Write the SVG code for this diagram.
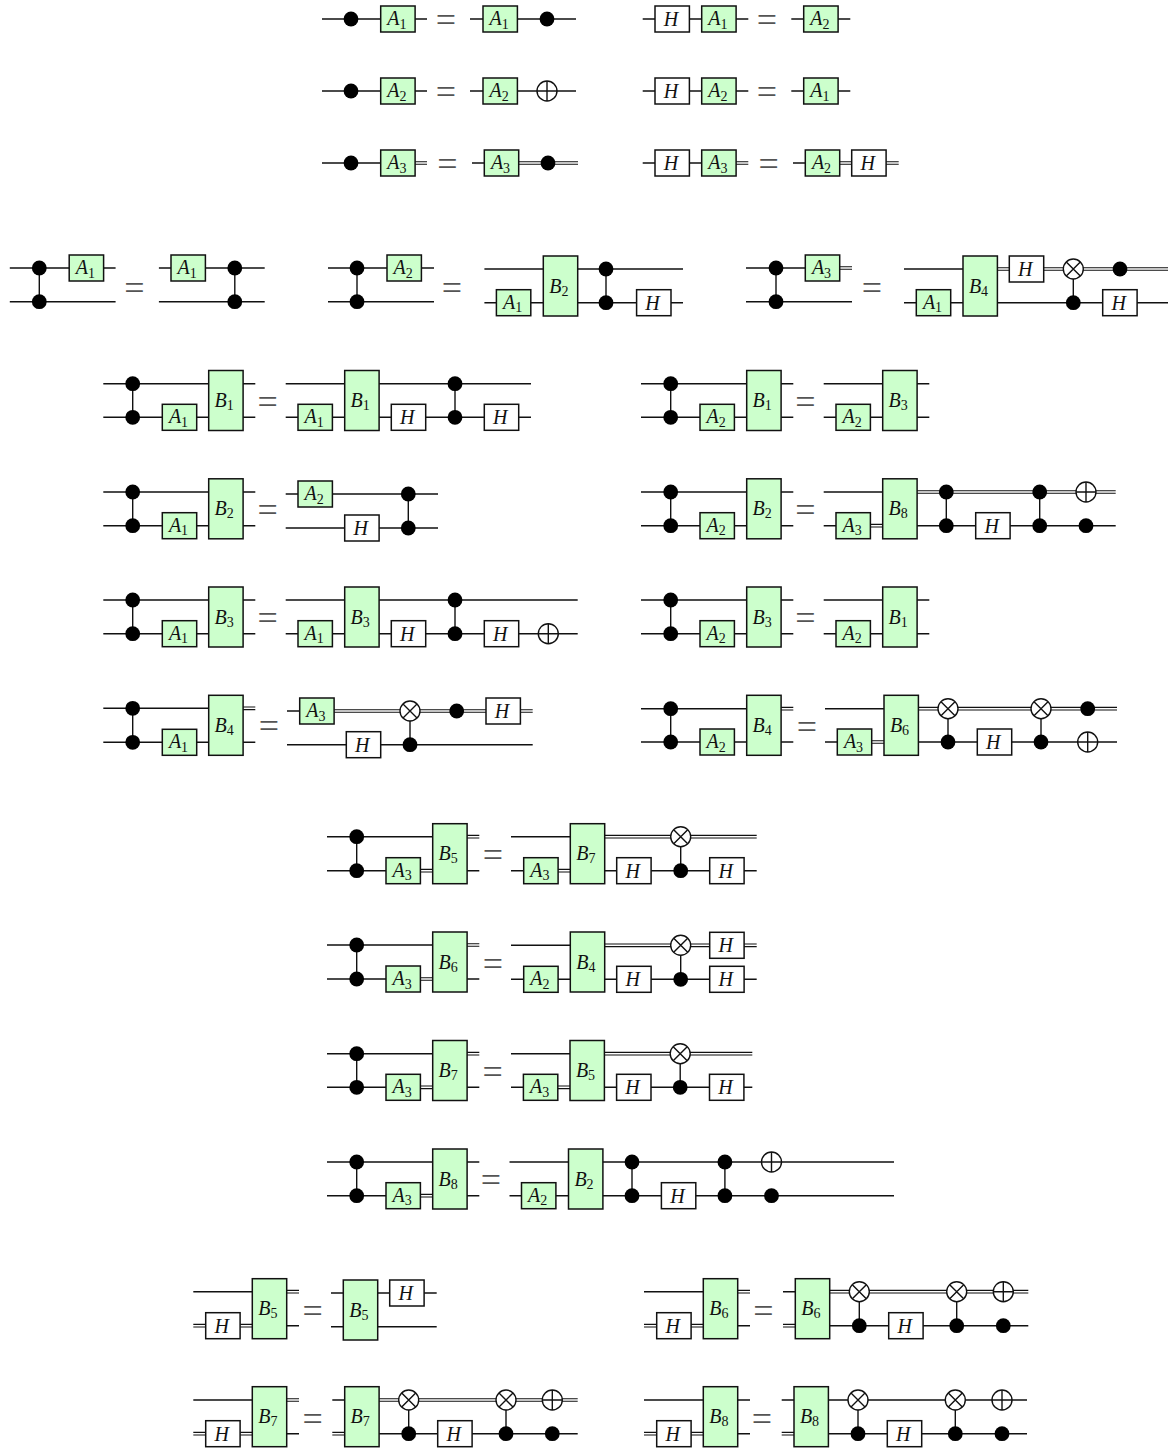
<svg xmlns="http://www.w3.org/2000/svg" width="1168" height="1448" viewBox="0 0 1168 1448">
<style>
.w{fill:none;stroke:#111;stroke-width:1.4}
.d{fill:none;stroke:#111;stroke-width:1.1}
.g{fill:#ccffcc;stroke:#111;stroke-width:1.5}
.h{fill:#fff;stroke:#111;stroke-width:1.5}
text{font-family:"Liberation Serif",serif;fill:#111}
.l{font-style:italic;font-size:20px;text-anchor:middle}
.s{font-style:normal;font-size:14px}
.e{font-size:36px;text-anchor:middle;fill:#555}
.o{fill:#fff;stroke:#111;stroke-width:1.4}
</style>
<defs>
<rect id="sg" class="g" x="0" y="-13" width="34.4" height="26"/>
<rect id="sh" class="h" x="0" y="-13" width="34.4" height="26"/>
<rect id="tg" class="g" x="0" y="-30" width="34.4" height="60"/>
<circle id="dot" r="7.4" fill="#000"/>
<g id="plus"><circle class="o" r="10"/><path class="w" d="M-10 0H10M0 -10V10"/></g>
<g id="cross"><circle class="o" r="10"/><path class="w" d="M-7 -7L7 7M-7 7L7 -7"/></g>
</defs>
<g id="connectors">
<path class="w" d="M322 19H427M470 19H576M322 91H427M470 91H576M322 163H381M472 163H484"/>
<path class="d" d="M415 161.7H427M415 164.3H427M518 161.7H578M518 164.3H578"/>
<path class="w" d="M642.7 19H748.3M791.3 19H850.3M642.7 91H748.3M791.3 91H850.3M642.7 163H702M793 163H805"/>
<path class="d" d="M736 161.7H748.3M736 164.3H748.3M839.7 161.7H851.7M839.7 164.3H851.7M886 161.7H898.7M886 164.3H898.7"/>
<path class="w" d="M9.8 268H115.6M9.8 301.7H115.6M39.3 268V301.7M158.9 268H264.7M158.9 301.7H264.7M234.8 268V301.7"/>
<path class="w" d="M328 268H434M328 301.7H434M357 268V301.7M484.4 269H683M484.4 302.7H683M606 269V302.7"/>
<path class="w" d="M746 268H805M746 301.7H852M776 268V301.7M904 269H963M904 302.7H1168M1073.3 269V302.7"/>
<path class="d" d="M840 266.7H852M840 269.3H852M997 267.7H1168M997 270.3H1168"/>
<path class="w" d="M103.3 383.7H255.3M103.3 417.3H255.3M132.7 383.7V417.3M285.7 383.7H531M285.7 417.3H531M455 383.7V417.3"/>
<path class="w" d="M103.3 492H255.3M103.3 525.7H255.3M132.7 492V525.7M285.7 494H438M285.7 528H438M408.3 494V528"/>
<path class="w" d="M103.3 600H255.3M103.3 633.7H255.3M132.7 600V633.7M285.7 600H577.7M285.7 633.7H577.7M455 600V633.7"/>
<path class="w" d="M103.3 708.3H209M103.3 742.3H255.3M132.7 708.3V742.3M287 711H300M287 744.7H532.7M410 711V744.7"/>
<path class="d" d="M243 707H255.3M243 709.6H255.3M334 709.7H532.7M334 712.3H532.7"/>
<path class="w" d="M641 383.7H793.3M641 417.3H793.3M670.7 383.7V417.3M823.7 383.7H929.3M823.7 417.3H929.3"/>
<path class="w" d="M641 492H793.3M641 525.7H793.3M670.7 492V525.7M823.7 492H883M823.7 525.7H836M917 525.7H1115.7M946.3 492V525.7M1039.7 492V525.7"/>
<path class="d" d="M870.3 524.4H883M870.3 527H883M917 490.7H1115.7M917 493.3H1115.7"/>
<path class="w" d="M641 600H793.3M641 633.7H793.3M670.7 600V633.7M823.7 600H929.3M823.7 633.7H929.3"/>
<path class="w" d="M641 708.7H747M641 742H793.3M670.7 708.7V742M825 708.7H884M825 742H837.3M918.3 742H1117M948 708.7V742M1041 708.7V742"/>
<path class="d" d="M781 707.4H793.3M781 710H793.3M871.7 740.7H884M871.7 743.3H884M918.3 707.4H1117M918.3 710H1117"/>
<path class="w" d="M327 836.7H433M327 870.7H386M467 870.7H479.3M356.7 836.7V870.7M511 836.7H570.3M511 870.7H523.7M604.7 870.7H756.7M680.7 836.7V870.7"/>
<path class="d" d="M420.3 869.4H432.7M420.3 872H432.7M467 835.4H479.3M467 838H479.3M558 869.4H570.3M558 872H570.3M604.7 835.4H756.7M604.7 838H756.7"/>
<path class="w" d="M327 945H433M327 979H386M467 979H479.3M356.7 945V979M511 945.3H570.3M511 979.3H756.7M680.7 945.3V979.3"/>
<path class="d" d="M420.3 977.7H432.7M420.3 980.3H432.7M467 943.7H479.3M467 946.3H479.3M604.7 944H756.7M604.7 946.6H756.7"/>
<path class="w" d="M327 1053.7H433M327 1087.3H386M467 1087.3H479.3M356.7 1053.7V1087.3M511 1053.7H570M511 1087.3H523.4M604.4 1087.3H752.3M680.2 1053.7V1087.3"/>
<path class="d" d="M420.3 1086H432.7M420.3 1088.6H432.7M467 1052.4H479.3M467 1055H479.3M557.8 1086H570M557.8 1088.6H570M604.4 1052.4H752.3M604.4 1055H752.3"/>
<path class="w" d="M327 1162H479.3M327 1195.7H386M467 1195.7H479.3M356.7 1162V1195.7M509.5 1162H894M509.5 1195.7H894M632 1162V1195.7M724.9 1162V1195.7"/>
<path class="d" d="M420.3 1194.4H432.7M420.3 1197H432.7"/>
<path class="w" d="M193.3 1291.7H252.3M286.7 1325.7H299M331 1293H436.7M331 1326.7H436.7"/>
<path class="d" d="M286.7 1290.4H299M286.7 1293H299M193.3 1324.4H205.7M193.3 1327H205.7M240.3 1324.4H252.3M240.3 1327H252.3"/>
<path class="w" d="M193.3 1400H252.3M286.7 1433.7H299M332.3 1400H345M379 1433.7H577.7M408.7 1400V1433.7M506 1400V1433.7"/>
<path class="d" d="M286.7 1398.7H299M286.7 1401.3H299M193.3 1432.4H205.7M193.3 1435H205.7M240.3 1432.4H252.3M240.3 1435H252.3M332.3 1432.4H345M332.3 1435H345M379 1398.7H577.7M379 1401.3H577.7"/>
<path class="w" d="M644 1291.7H703.3M737.7 1325.7H750M783 1291.7H795.3M829.7 1325.7H1028.3M859.3 1291.7V1325.7M956.7 1291.7V1325.7"/>
<path class="d" d="M737.7 1290.4H750M737.7 1293H750M644 1324.4H656.7M644 1327H656.7M691 1324.4H703.3M691 1327H703.3M783 1324.4H795.3M783 1327H795.3M829.7 1290.4H1028.3M829.7 1293H1028.3"/>
<path class="w" d="M644 1400H750M737.7 1433.7H750M781.7 1400H1027M828.3 1433.7H1027M858 1400V1433.7M955.3 1400V1433.7"/>
<path class="d" d="M644 1432.4H656.7M644 1435H656.7M691 1432.4H703.3M691 1435H703.3M781.7 1432.4H794M781.7 1435H794"/>
</g>
<g id="equals">
<text class="e" x="446" y="32">=</text><text class="e" x="446" y="104">=</text><text class="e" x="447.3" y="176">=</text>
<text class="e" x="767" y="32">=</text><text class="e" x="767" y="104">=</text><text class="e" x="768.7" y="176">=</text>
<text class="e" x="134.4" y="300">=</text><text class="e" x="452" y="300">=</text><text class="e" x="872" y="300">=</text>
<text class="e" x="267.7" y="414">=</text><text class="e" x="267.7" y="522">=</text><text class="e" x="267.7" y="630">=</text><text class="e" x="269" y="738">=</text>
<text class="e" x="805.3" y="414">=</text><text class="e" x="805.3" y="522">=</text><text class="e" x="805.3" y="630">=</text><text class="e" x="807" y="738.7">=</text>
<text class="e" x="493" y="867.3">=</text><text class="e" x="493" y="975.7">=</text><text class="e" x="492.6" y="1083.7">=</text><text class="e" x="491" y="1192">=</text>
<text class="e" x="312.7" y="1323">=</text><text class="e" x="312.7" y="1430.7">=</text><text class="e" x="763.3" y="1323">=</text><text class="e" x="762" y="1430.7">=</text>
</g>
<g id="t1"><g transform="translate(351,19)"><use href="#dot"/></g><g transform="translate(380.7,19)"><use href="#sg"/><text class="l" x="16.2" y="6">A<tspan class="s" dy="3.5">1</tspan></text></g><g transform="translate(483,19)"><use href="#sg"/><text class="l" x="16.2" y="6">A<tspan class="s" dy="3.5">1</tspan></text></g><g transform="translate(547,19)"><use href="#dot"/></g></g>
<g id="t2"><g transform="translate(351,91)"><use href="#dot"/></g><g transform="translate(380.7,91)"><use href="#sg"/><text class="l" x="16.2" y="6">A<tspan class="s" dy="3.5">2</tspan></text></g><g transform="translate(483,91)"><use href="#sg"/><text class="l" x="16.2" y="6">A<tspan class="s" dy="3.5">2</tspan></text></g><g transform="translate(547,91)"><use href="#plus"/></g></g>
<g id="t3"><g transform="translate(351,163)"><use href="#dot"/></g><g transform="translate(380.7,163)"><use href="#sg"/><text class="l" x="16.2" y="6">A<tspan class="s" dy="3.5">3</tspan></text></g><g transform="translate(484.3,163)"><use href="#sg"/><text class="l" x="16.2" y="6">A<tspan class="s" dy="3.5">3</tspan></text></g><g transform="translate(548,163)"><use href="#dot"/></g></g>
<g id="u1"><g transform="translate(655,19)"><use href="#sh"/><text class="l" x="16" y="7">H</text></g><g transform="translate(701.7,19)"><use href="#sg"/><text class="l" x="16.2" y="6">A<tspan class="s" dy="3.5">1</tspan></text></g><g transform="translate(803.7,19)"><use href="#sg"/><text class="l" x="16.2" y="6">A<tspan class="s" dy="3.5">2</tspan></text></g></g>
<g id="u2"><g transform="translate(655,91)"><use href="#sh"/><text class="l" x="16" y="7">H</text></g><g transform="translate(701.7,91)"><use href="#sg"/><text class="l" x="16.2" y="6">A<tspan class="s" dy="3.5">2</tspan></text></g><g transform="translate(803.7,91)"><use href="#sg"/><text class="l" x="16.2" y="6">A<tspan class="s" dy="3.5">1</tspan></text></g></g>
<g id="u3"><g transform="translate(655,163)"><use href="#sh"/><text class="l" x="16" y="7">H</text></g><g transform="translate(701.7,163)"><use href="#sg"/><text class="l" x="16.2" y="6">A<tspan class="s" dy="3.5">3</tspan></text></g><g transform="translate(805.3,163)"><use href="#sg"/><text class="l" x="16.2" y="6">A<tspan class="s" dy="3.5">2</tspan></text></g><g transform="translate(851.7,163)"><use href="#sh"/><text class="l" x="16" y="7">H</text></g></g>
<g id="a1"><use href="#dot" x="39.3" y="268"/><use href="#dot" x="39.3" y="301.7"/><g transform="translate(69.2,268)"><use href="#sg"/><text class="l" x="16.2" y="6">A<tspan class="s" dy="3.5">1</tspan></text></g><g transform="translate(171,268)"><use href="#sg"/><text class="l" x="16.2" y="6">A<tspan class="s" dy="3.5">1</tspan></text></g><use href="#dot" x="234.8" y="268"/><use href="#dot" x="234.8" y="301.7"/></g>
<g id="a2"><use href="#dot" x="357" y="268"/><use href="#dot" x="357" y="301.7"/><g transform="translate(387,268)"><use href="#sg"/><text class="l" x="16.2" y="6">A<tspan class="s" dy="3.5">2</tspan></text></g><g transform="translate(496.4,302.7)"><use href="#sg"/><text class="l" x="16.2" y="6">A<tspan class="s" dy="3.5">1</tspan></text></g><g transform="translate(543.3,286)"><use href="#tg"/><text class="l" x="15.5" y="6.5">B<tspan class="s" dy="3">2</tspan></text></g><use href="#dot" x="606" y="269"/><use href="#dot" x="606" y="302.7"/><g transform="translate(636.6,302.7)"><use href="#sh"/><text class="l" x="16" y="7">H</text></g></g>
<g id="a3"><use href="#dot" x="776" y="268"/><use href="#dot" x="776" y="301.7"/><g transform="translate(805.3,268)"><use href="#sg"/><text class="l" x="16.2" y="6">A<tspan class="s" dy="3.5">3</tspan></text></g><g transform="translate(916.3,302.7)"><use href="#sg"/><text class="l" x="16.2" y="6">A<tspan class="s" dy="3.5">1</tspan></text></g><g transform="translate(963,286)"><use href="#tg"/><text class="l" x="15.5" y="6.5">B<tspan class="s" dy="3">4</tspan></text></g><g transform="translate(1009.3,269)"><use href="#sh"/><text class="l" x="16" y="7">H</text></g><use href="#cross" x="1073.3" y="269"/><use href="#dot" x="1073.3" y="302.7"/><use href="#dot" x="1120" y="269"/><g transform="translate(1102.7,302.7)"><use href="#sh"/><text class="l" x="16" y="7">H</text></g></g>
<g id="m1"><use href="#dot" x="132.7" y="383.7"/><use href="#dot" x="132.7" y="417.3"/><g transform="translate(162.3,417.3)"><use href="#sg"/><text class="l" x="16.2" y="6">A<tspan class="s" dy="3.5">1</tspan></text></g><g transform="translate(208.7,400.5)"><use href="#tg"/><text class="l" x="15.5" y="6.5">B<tspan class="s" dy="3">1</tspan></text></g><g transform="translate(298,417.3)"><use href="#sg"/><text class="l" x="16.2" y="6">A<tspan class="s" dy="3.5">1</tspan></text></g><g transform="translate(344.7,400.5)"><use href="#tg"/><text class="l" x="15.5" y="6.5">B<tspan class="s" dy="3">1</tspan></text></g><g transform="translate(391.3,417.3)"><use href="#sh"/><text class="l" x="16" y="7">H</text></g><use href="#dot" x="455" y="383.7"/><use href="#dot" x="455" y="417.3"/><g transform="translate(484.3,417.3)"><use href="#sh"/><text class="l" x="16" y="7">H</text></g></g>
<g id="m2"><use href="#dot" x="132.7" y="492"/><use href="#dot" x="132.7" y="525.7"/><g transform="translate(162.3,525.7)"><use href="#sg"/><text class="l" x="16.2" y="6">A<tspan class="s" dy="3.5">1</tspan></text></g><g transform="translate(208.7,508.8)"><use href="#tg"/><text class="l" x="15.5" y="6.5">B<tspan class="s" dy="3">2</tspan></text></g><g transform="translate(298,494)"><use href="#sg"/><text class="l" x="16.2" y="6">A<tspan class="s" dy="3.5">2</tspan></text></g><g transform="translate(344.7,528)"><use href="#sh"/><text class="l" x="16" y="7">H</text></g><use href="#dot" x="408.3" y="494"/><use href="#dot" x="408.3" y="528"/></g>
<g id="m3"><use href="#dot" x="132.7" y="600"/><use href="#dot" x="132.7" y="633.7"/><g transform="translate(162.3,633.7)"><use href="#sg"/><text class="l" x="16.2" y="6">A<tspan class="s" dy="3.5">1</tspan></text></g><g transform="translate(208.7,617)"><use href="#tg"/><text class="l" x="15.5" y="6.5">B<tspan class="s" dy="3">3</tspan></text></g><g transform="translate(298,633.7)"><use href="#sg"/><text class="l" x="16.2" y="6">A<tspan class="s" dy="3.5">1</tspan></text></g><g transform="translate(344.7,617)"><use href="#tg"/><text class="l" x="15.5" y="6.5">B<tspan class="s" dy="3">3</tspan></text></g><g transform="translate(391.3,633.7)"><use href="#sh"/><text class="l" x="16" y="7">H</text></g><use href="#dot" x="455" y="600"/><use href="#dot" x="455" y="633.7"/><g transform="translate(484.3,633.7)"><use href="#sh"/><text class="l" x="16" y="7">H</text></g><use href="#plus" x="548.3" y="633.7"/></g>
<g id="m4"><use href="#dot" x="132.7" y="708.3"/><use href="#dot" x="132.7" y="742.3"/><g transform="translate(162.3,742.3)"><use href="#sg"/><text class="l" x="16.2" y="6">A<tspan class="s" dy="3.5">1</tspan></text></g><g transform="translate(208.7,725.3)"><use href="#tg"/><text class="l" x="15.5" y="6.5">B<tspan class="s" dy="3">4</tspan></text></g><g transform="translate(299.7,711)"><use href="#sg"/><text class="l" x="16.2" y="6">A<tspan class="s" dy="3.5">3</tspan></text></g><g transform="translate(346.3,744.7)"><use href="#sh"/><text class="l" x="16" y="7">H</text></g><use href="#cross" x="410" y="711"/><use href="#dot" x="410" y="744.7"/><use href="#dot" x="456.7" y="711"/><g transform="translate(486,711)"><use href="#sh"/><text class="l" x="16" y="7">H</text></g></g>
<g id="n1"><use href="#dot" x="670.7" y="383.7"/><use href="#dot" x="670.7" y="417.3"/><g transform="translate(700,417.3)"><use href="#sg"/><text class="l" x="16.2" y="6">A<tspan class="s" dy="3.5">2</tspan></text></g><g transform="translate(746.7,400.5)"><use href="#tg"/><text class="l" x="15.5" y="6.5">B<tspan class="s" dy="3">1</tspan></text></g><g transform="translate(836,417.3)"><use href="#sg"/><text class="l" x="16.2" y="6">A<tspan class="s" dy="3.5">2</tspan></text></g><g transform="translate(882.7,400.5)"><use href="#tg"/><text class="l" x="15.5" y="6.5">B<tspan class="s" dy="3">3</tspan></text></g></g>
<g id="n2"><use href="#dot" x="670.7" y="492"/><use href="#dot" x="670.7" y="525.7"/><g transform="translate(700,525.7)"><use href="#sg"/><text class="l" x="16.2" y="6">A<tspan class="s" dy="3.5">2</tspan></text></g><g transform="translate(746.7,508.8)"><use href="#tg"/><text class="l" x="15.5" y="6.5">B<tspan class="s" dy="3">2</tspan></text></g><g transform="translate(836,525.7)"><use href="#sg"/><text class="l" x="16.2" y="6">A<tspan class="s" dy="3.5">3</tspan></text></g><g transform="translate(882.7,508.8)"><use href="#tg"/><text class="l" x="15.5" y="6.5">B<tspan class="s" dy="3">8</tspan></text></g><use href="#dot" x="946.3" y="492"/><use href="#dot" x="946.3" y="525.7"/><g transform="translate(975.7,525.7)"><use href="#sh"/><text class="l" x="16" y="7">H</text></g><use href="#dot" x="1039.7" y="492"/><use href="#dot" x="1039.7" y="525.7"/><use href="#plus" x="1086" y="492"/><use href="#dot" x="1086" y="525.7"/></g>
<g id="n3"><use href="#dot" x="670.7" y="600"/><use href="#dot" x="670.7" y="633.7"/><g transform="translate(700,633.7)"><use href="#sg"/><text class="l" x="16.2" y="6">A<tspan class="s" dy="3.5">2</tspan></text></g><g transform="translate(746.7,617)"><use href="#tg"/><text class="l" x="15.5" y="6.5">B<tspan class="s" dy="3">3</tspan></text></g><g transform="translate(836,633.7)"><use href="#sg"/><text class="l" x="16.2" y="6">A<tspan class="s" dy="3.5">2</tspan></text></g><g transform="translate(882.7,617)"><use href="#tg"/><text class="l" x="15.5" y="6.5">B<tspan class="s" dy="3">1</tspan></text></g></g>
<g id="n4"><use href="#dot" x="670.7" y="708.7"/><use href="#dot" x="670.7" y="742"/><g transform="translate(700,742)"><use href="#sg"/><text class="l" x="16.2" y="6">A<tspan class="s" dy="3.5">2</tspan></text></g><g transform="translate(746.7,725.3)"><use href="#tg"/><text class="l" x="15.5" y="6.5">B<tspan class="s" dy="3">4</tspan></text></g><g transform="translate(837.3,742)"><use href="#sg"/><text class="l" x="16.2" y="6">A<tspan class="s" dy="3.5">3</tspan></text></g><g transform="translate(884,725.3)"><use href="#tg"/><text class="l" x="15.5" y="6.5">B<tspan class="s" dy="3">6</tspan></text></g><use href="#cross" x="948" y="708.7"/><use href="#dot" x="948" y="742"/><g transform="translate(977.3,742)"><use href="#sh"/><text class="l" x="16" y="7">H</text></g><use href="#cross" x="1041" y="708.7"/><use href="#dot" x="1041" y="742"/><use href="#dot" x="1087.7" y="708.7"/><use href="#plus" x="1087.7" y="742"/></g>
<g id="c1"><use href="#dot" x="356.7" y="836.7"/><use href="#dot" x="356.7" y="870.7"/><g transform="translate(386,870.7)"><use href="#sg"/><text class="l" x="16.2" y="6">A<tspan class="s" dy="3.5">3</tspan></text></g><g transform="translate(432.7,853.7)"><use href="#tg"/><text class="l" x="15.5" y="6.5">B<tspan class="s" dy="3">5</tspan></text></g><g transform="translate(523.7,870.7)"><use href="#sg"/><text class="l" x="16.2" y="6">A<tspan class="s" dy="3.5">3</tspan></text></g><g transform="translate(570.3,853.7)"><use href="#tg"/><text class="l" x="15.5" y="6.5">B<tspan class="s" dy="3">7</tspan></text></g><g transform="translate(616.7,870.7)"><use href="#sh"/><text class="l" x="16" y="7">H</text></g><use href="#cross" x="680.7" y="836.7"/><use href="#dot" x="680.7" y="870.7"/><g transform="translate(709.7,870.7)"><use href="#sh"/><text class="l" x="16" y="7">H</text></g></g>
<g id="c2"><use href="#dot" x="356.7" y="945"/><use href="#dot" x="356.7" y="979"/><g transform="translate(386,979)"><use href="#sg"/><text class="l" x="16.2" y="6">A<tspan class="s" dy="3.5">3</tspan></text></g><g transform="translate(432.7,962)"><use href="#tg"/><text class="l" x="15.5" y="6.5">B<tspan class="s" dy="3">6</tspan></text></g><g transform="translate(523.7,979.3)"><use href="#sg"/><text class="l" x="16.2" y="6">A<tspan class="s" dy="3.5">2</tspan></text></g><g transform="translate(570.3,962)"><use href="#tg"/><text class="l" x="15.5" y="6.5">B<tspan class="s" dy="3">4</tspan></text></g><g transform="translate(616.7,979.3)"><use href="#sh"/><text class="l" x="16" y="7">H</text></g><use href="#cross" x="680.7" y="945.3"/><use href="#dot" x="680.7" y="979.3"/><g transform="translate(709.7,945.3)"><use href="#sh"/><text class="l" x="16" y="7">H</text></g><g transform="translate(709.7,979.3)"><use href="#sh"/><text class="l" x="16" y="7">H</text></g></g>
<g id="c3"><use href="#dot" x="356.7" y="1053.7"/><use href="#dot" x="356.7" y="1087.3"/><g transform="translate(386,1087.3)"><use href="#sg"/><text class="l" x="16.2" y="6">A<tspan class="s" dy="3.5">3</tspan></text></g><g transform="translate(432.7,1070.5)"><use href="#tg"/><text class="l" x="15.5" y="6.5">B<tspan class="s" dy="3">7</tspan></text></g><g transform="translate(523.4,1087.3)"><use href="#sg"/><text class="l" x="16.2" y="6">A<tspan class="s" dy="3.5">3</tspan></text></g><g transform="translate(570,1070.5)"><use href="#tg"/><text class="l" x="15.5" y="6.5">B<tspan class="s" dy="3">5</tspan></text></g><g transform="translate(616.6,1087.3)"><use href="#sh"/><text class="l" x="16" y="7">H</text></g><use href="#cross" x="680.2" y="1053.7"/><use href="#dot" x="680.2" y="1087.3"/><g transform="translate(709.5,1087.3)"><use href="#sh"/><text class="l" x="16" y="7">H</text></g></g>
<g id="c4"><use href="#dot" x="356.7" y="1162"/><use href="#dot" x="356.7" y="1195.7"/><g transform="translate(386,1195.7)"><use href="#sg"/><text class="l" x="16.2" y="6">A<tspan class="s" dy="3.5">3</tspan></text></g><g transform="translate(432.7,1179)"><use href="#tg"/><text class="l" x="15.5" y="6.5">B<tspan class="s" dy="3">8</tspan></text></g><g transform="translate(521.5,1195.7)"><use href="#sg"/><text class="l" x="16.2" y="6">A<tspan class="s" dy="3.5">2</tspan></text></g><g transform="translate(568.5,1179)"><use href="#tg"/><text class="l" x="15.5" y="6.5">B<tspan class="s" dy="3">2</tspan></text></g><use href="#dot" x="632" y="1162"/><use href="#dot" x="632" y="1195.7"/><g transform="translate(661.4,1195.7)"><use href="#sh"/><text class="l" x="16" y="7">H</text></g><use href="#dot" x="724.9" y="1162"/><use href="#dot" x="724.9" y="1195.7"/><use href="#plus" x="771.5" y="1162"/><use href="#dot" x="771.5" y="1195.7"/></g>
<g id="p1"><g transform="translate(205.7,1325.7)"><use href="#sh"/><text class="l" x="16" y="7">H</text></g><g transform="translate(252.3,1308.7)"><use href="#tg"/><text class="l" x="15.5" y="6.5">B<tspan class="s" dy="3">5</tspan></text></g><g transform="translate(343.3,1310)"><use href="#tg"/><text class="l" x="15.5" y="6.5">B<tspan class="s" dy="3">5</tspan></text></g><g transform="translate(389.7,1293)"><use href="#sh"/><text class="l" x="16" y="7">H</text></g></g>
<g id="p2"><g transform="translate(205.7,1433.7)"><use href="#sh"/><text class="l" x="16" y="7">H</text></g><g transform="translate(252.3,1416.7)"><use href="#tg"/><text class="l" x="15.5" y="6.5">B<tspan class="s" dy="3">7</tspan></text></g><g transform="translate(344.7,1416.7)"><use href="#tg"/><text class="l" x="15.5" y="6.5">B<tspan class="s" dy="3">7</tspan></text></g><use href="#cross" x="408.7" y="1400"/><use href="#dot" x="408.7" y="1433.7"/><g transform="translate(437.7,1433.7)"><use href="#sh"/><text class="l" x="16" y="7">H</text></g><use href="#cross" x="506" y="1400"/><use href="#dot" x="506" y="1433.7"/><use href="#plus" x="552.3" y="1400"/><use href="#dot" x="552.3" y="1433.7"/></g>
<g id="q1"><g transform="translate(656.7,1325.7)"><use href="#sh"/><text class="l" x="16" y="7">H</text></g><g transform="translate(703.3,1308.7)"><use href="#tg"/><text class="l" x="15.5" y="6.5">B<tspan class="s" dy="3">6</tspan></text></g><g transform="translate(795.3,1308.7)"><use href="#tg"/><text class="l" x="15.5" y="6.5">B<tspan class="s" dy="3">6</tspan></text></g><use href="#cross" x="859.3" y="1291.7"/><use href="#dot" x="859.3" y="1325.7"/><g transform="translate(888.7,1325.7)"><use href="#sh"/><text class="l" x="16" y="7">H</text></g><use href="#cross" x="956.7" y="1291.7"/><use href="#dot" x="956.7" y="1325.7"/><use href="#plus" x="1003.3" y="1291.7"/><use href="#dot" x="1003.3" y="1325.7"/></g>
<g id="q2"><g transform="translate(656.7,1433.7)"><use href="#sh"/><text class="l" x="16" y="7">H</text></g><g transform="translate(703.3,1416.7)"><use href="#tg"/><text class="l" x="15.5" y="6.5">B<tspan class="s" dy="3">8</tspan></text></g><g transform="translate(794,1416.7)"><use href="#tg"/><text class="l" x="15.5" y="6.5">B<tspan class="s" dy="3">8</tspan></text></g><use href="#cross" x="858" y="1400"/><use href="#dot" x="858" y="1433.7"/><g transform="translate(887.3,1433.7)"><use href="#sh"/><text class="l" x="16" y="7">H</text></g><use href="#cross" x="955.3" y="1400"/><use href="#dot" x="955.3" y="1433.7"/><use href="#plus" x="1002" y="1400"/><use href="#dot" x="1002" y="1433.7"/></g>
</svg>
